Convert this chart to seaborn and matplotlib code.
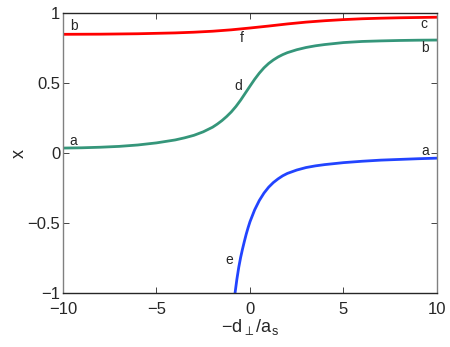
import pandas as pd
import seaborn as sns
import matplotlib.pyplot as plt

# values
red_x = [-10, -8, -6, -4, -3, -2, -1, 0, 1, 2, 3, 4, 5, 6, 7, 8, 9, 10]
red_y = [0.848, 0.849, 0.852, 0.858, 0.863, 0.870, 0.880, 0.893, 0.907,
         0.922, 0.935, 0.945, 0.953, 0.959, 0.963, 0.966, 0.968, 0.970]

green_x = [-10, -9, -8, -7, -6, -5, -4, -3.5, -3, -2.5, -2, -1.75, -1.5,
           -1.25, -1, -0.75, -0.5, -0.25, 0, 0.25, 0.5, 0.75, 1, 1.25, 1.5,
           1.75, 2, 2.5, 3, 3.5, 4, 5, 6, 7, 8, 9, 10]
green_y = [0.036, 0.038, 0.042, 0.048, 0.058, 0.073, 0.094, 0.109, 0.127,
           0.152, 0.185, 0.207, 0.232, 0.261, 0.294, 0.333, 0.378, 0.428,
           0.478, 0.527, 0.571, 0.609, 0.64, 0.665, 0.686, 0.703, 0.717,
           0.738, 0.754, 0.766, 0.775, 0.789, 0.797, 0.801, 0.804, 0.806,
           0.807]

blue_x = [-0.8, -0.7, -0.6, -0.5, -0.4, -0.3, -0.2, -0.1, 0, 0.25, 0.5,
          0.75, 1, 1.25, 1.5, 1.75, 2, 2.5, 3, 3.5, 4, 5, 6, 7, 8, 9, 10]
blue_y = [-1.0, -0.9, -0.815, -0.745, -0.685, -0.63, -0.578, -0.532, -0.49,
          -0.405, -0.338, -0.285, -0.243, -0.21, -0.184, -0.162, -0.145,
          -0.121, -0.103, -0.091, -0.082, -0.068, -0.058, -0.05, -0.045,
          -0.04, -0.036]

# curve labels
labels = ['b', 'a', 'f', 'c', 'b', 'd', 'a', 'e']
label_x = [-9.4, -9.45, -0.45, 9.3, 9.35, -0.65, 9.35, -1.1]
label_y = [0.91, 0.09, 0.82, 0.92, 0.75, 0.48, 0.014, -0.76]

sns.set_style("ticks")
plt.rcParams['font.family'] = ['Liberation Sans', 'DejaVu Sans']
plt.rcParams['mathtext.fontset'] = 'custom'
plt.rcParams['mathtext.rm'] = 'Liberation Sans'

fig = plt.figure(figsize=(4.5, 3.47), dpi=100)
ax = fig.add_axes([0.14, 0.155, 0.831, 0.8075])

sns.lineplot(x=red_x, y=red_y, ax=ax, color='#ff0000', lw=2)
sns.lineplot(x=green_x, y=green_y, ax=ax, color='#35967a', lw=2)
sns.lineplot(x=blue_x, y=blue_y, ax=ax, color='#2244ff', lw=2)

for t, x, y in zip(labels, label_x, label_y):
    ax.text(x, y, t, fontsize=10, ha='center', va='center')

ax.set_xlim(-10, 10)
ax.set_ylim(-1, 1)
ax.set_xticks([-10, -5, 0, 5, 10])
ax.set_yticks([-1, -0.5, 0, 0.5, 1])
ax.set_yticklabels(['\u22121', '\u22120.5', '0', '0.5', '1'])
ax.set_xticklabels(['\u221210', '\u22125', '0', '5', '10'])
ax.tick_params(direction='in', length=4, width=0.6, labelsize=12,
               top=True, right=True)
ax.tick_params(axis='x', pad=6)
ax.tick_params(axis='y', pad=2)
for s in ['left', 'right']:
    ax.spines[s].set_color('#808080')
for s in ax.spines.values():
    s.set_linewidth(1)

ax.set_xlabel(r'$\mathregular{-d_{\perp}/a_s}$', fontsize=13, labelpad=0)
ax.set_ylabel('x', fontsize=13, labelpad=0)

fig.savefig('out.png', dpi=100)
